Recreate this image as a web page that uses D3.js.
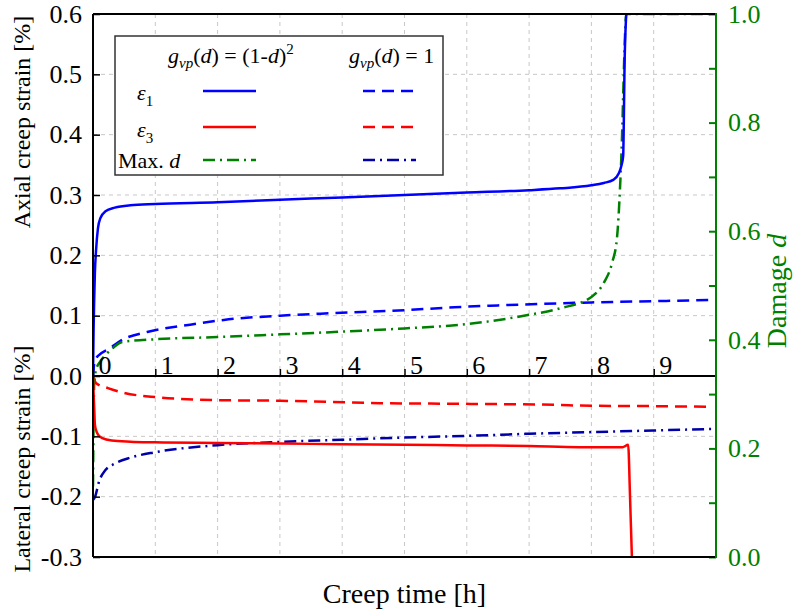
<!DOCTYPE html>
<html>
<head>
<meta charset="utf-8">
<script src="https://cdn.jsdelivr.net/npm/d3@7"></script>
<style>
  html, body { margin: 0; padding: 0; background: #fff; }
  svg { display: block; }
  svg text { font-family: "Liberation Serif", "Times New Roman", Times, serif; }
</style>
</head>
<body>
<svg id="chart" width="795" height="615"></svg>
<script>
// ---- data -------------------------------------------------------------
// creep time [h]
const timeTicks = [0, 1, 2, 3, 4, 5, 6, 7, 8, 9];
const strainTicks = [0.6, 0.5, 0.4, 0.3, 0.2, 0.1, 0.0, -0.1, -0.2, -0.3];
const damageTicks = [0, 0.1, 0.2, 0.3, 0.4, 0.5, 0.6, 0.7, 0.8, 0.9, 1.0];

// g_vp(d) = (1-d)^2 : axial strain eps1 [%]
const eps1DegT = [0, 0.005, 0.01, 0.02, 0.03, 0.05, 0.08, 0.12, 0.2, 0.35, 0.6, 1, 2, 3, 4, 5, 6, 7, 7.5, 8, 8.2, 8.35, 8.44, 8.48, 8.51, 8.52, 8.53, 8.56];
const eps1DegV = [0, 0.04, 0.08, 0.13, 0.17, 0.21, 0.245, 0.262, 0.273, 0.279, 0.283, 0.285, 0.288, 0.292, 0.296, 0.300, 0.304, 0.308, 0.311, 0.316, 0.320, 0.325, 0.336, 0.348, 0.365, 0.42, 0.50, 0.60];

// g_vp(d) = (1-d)^2 : lateral strain eps3 [%]
const eps3DegT = [0, 0.01, 0.02, 0.03, 0.05, 0.08, 0.15, 0.3, 0.6, 1, 2, 3, 4, 5, 6, 7, 7.8, 8.5, 8.59, 8.62, 8.65];
const eps3DegV = [0, -0.03, -0.055, -0.08, -0.09, -0.097, -0.103, -0.107, -0.109, -0.110, -0.111, -0.112, -0.113, -0.114, -0.115, -0.116, -0.118, -0.118, -0.114, -0.2, -0.3];

// g_vp(d) = (1-d)^2 : maximum damage d
const dmgDegT = [0, 0.005, 0.01, 0.02, 0.05, 0.11, 0.2, 0.32, 0.47, 1, 2, 3, 4, 5, 6, 7, 7.5, 8, 8.2, 8.33, 8.41, 8.46, 8.49, 8.51, 8.53, 8.56, 10];
const dmgDegV = [0.13, 0.2, 0.26, 0.32, 0.345, 0.359, 0.372, 0.385, 0.396, 0.401, 0.405, 0.41, 0.415, 0.421, 0.429, 0.446, 0.458, 0.479, 0.505, 0.541, 0.587, 0.681, 0.768, 0.85, 0.93, 1.0, 1.0];

// g_vp(d) = 1 : axial strain eps1 [%]
const eps1RefT = [0, 0.02, 0.06, 0.1, 0.27, 0.47, 0.87, 1.56, 2.1, 3, 3.8, 5, 5.8, 6.5, 7.65, 8, 9, 9.9];
const eps1RefV = [0, 0.02, 0.031, 0.035, 0.046, 0.06, 0.073, 0.085, 0.093, 0.1, 0.104, 0.109, 0.114, 0.117, 0.121, 0.122, 0.124, 0.126];

// g_vp(d) = 1 : lateral strain eps3 [%]
const eps3RefT = [0, 0.05, 0.24, 0.5, 1, 2, 3, 3.8, 4.6, 5.8, 7.5, 7.8, 9, 9.85];
const eps3RefV = [0, -0.012, -0.02, -0.028, -0.035, -0.04, -0.041, -0.043, -0.045, -0.046, -0.048, -0.049, -0.05, -0.051];

// g_vp(d) = 1 : maximum damage d
const dmgRefT = [0, 0.03, 0.1, 0.2, 0.35, 0.6, 1, 2, 3, 4, 5, 6, 7, 8, 9, 10];
const dmgRefV = [0.105, 0.11, 0.14, 0.16, 0.172, 0.183, 0.193, 0.206, 0.212, 0.216, 0.220, 0.223, 0.227, 0.230, 0.233, 0.236];

// ---- layout -----------------------------------------------------------
const plot = { left: 93, right: 716, top: 14, bottom: 557 };
const fontTick = 26;
const green = "#008000";

const svg = d3.select("#chart");

const x = d3.scaleLinear().domain([0, 10]).range([plot.left, plot.right]);
const yStrain = d3.scaleLinear().domain([-0.3, 0.6]).range([plot.bottom, plot.top]);
const yDamage = d3.scaleLinear().domain([0, 1]).range([plot.bottom, plot.top]);

const zip = (ts, vs) => ts.map((t, i) => [t, vs[i]]);

const series = [
  { pts: zip(eps1RefT, eps1RefV), y: yStrain, color: "#0000ff", dash: "12,7" },
  { pts: zip(eps3RefT, eps3RefV), y: yStrain, color: "#ff0000", dash: "12,7" },
  { pts: zip(dmgRefT, dmgRefV), y: yDamage, color: "#0000a8", dash: "12,5,2,5" },
  { pts: zip(dmgDegT, dmgDegV), y: yDamage, color: green, dash: "12,5,2,5" },
  { pts: zip(eps3DegT, eps3DegV), y: yStrain, color: "#ff0000", dash: null },
  { pts: zip(eps1DegT, eps1DegV), y: yStrain, color: "#0000ff", dash: null }
];

// ---- grid -------------------------------------------------------------
const grid = svg.append("g").attr("stroke", "#c8c8c8").attr("stroke-width", 1).attr("stroke-dasharray", "4,4");
grid.selectAll("line.v").data(timeTicks.filter(t => t > 0)).join("line")
  .attr("x1", d => x(d)).attr("x2", d => x(d))
  .attr("y1", plot.top).attr("y2", plot.bottom);
grid.selectAll("line.h").data(strainTicks.filter(v => v !== 0.6 && v !== 0 && v !== -0.3)).join("line")
  .attr("x1", plot.left).attr("x2", plot.right)
  .attr("y1", d => yStrain(d)).attr("y2", d => yStrain(d));

// ---- curves -----------------------------------------------------------
svg.append("clipPath").attr("id", "plotClip").append("rect")
  .attr("x", plot.left).attr("y", plot.top)
  .attr("width", plot.right - plot.left).attr("height", plot.bottom - plot.top);

const curves = svg.append("g").attr("clip-path", "url(#plotClip)");
series.forEach(s => {
  const line = d3.line().x(d => x(d[0])).y(d => s.y(d[1])).curve(d3.curveMonotoneX);
  curves.append("path")
    .attr("d", line(s.pts))
    .attr("fill", "none")
    .attr("stroke", s.color)
    .attr("stroke-width", 2.5)
    .attr("stroke-dasharray", s.dash);
});

// ---- axes -------------------------------------------------------------
const leftAxis = svg.append("g")
  .attr("transform", `translate(${plot.left},0)`)
  .call(d3.axisLeft(yStrain).tickValues(strainTicks).tickSize(-7).tickPadding(11)
    .tickFormat(d => d.toFixed(1)))
  .attr("font-family", null).attr("font-size", fontTick);
leftAxis.select(".domain").remove();
leftAxis.selectAll("line").attr("stroke", "#000").attr("stroke-width", 1.5);
leftAxis.selectAll("text").attr("fill", "#000");

const timeAxis = svg.append("g")
  .attr("transform", `translate(0,${yStrain(0)})`)
  .call(d3.axisBottom(x).tickValues(timeTicks).tickSize(-7).tickFormat(d3.format("d")))
  .attr("font-family", null).attr("font-size", fontTick);
timeAxis.select(".domain").remove();
timeAxis.selectAll("line").attr("stroke", "#000").attr("stroke-width", 1.5);
timeAxis.selectAll("text")
  .attr("fill", "#000")
  .attr("text-anchor", "start").attr("x", 5).attr("y", -2).attr("dy", null);

const rightAxis = svg.append("g")
  .attr("transform", `translate(${plot.right},0)`)
  .call(d3.axisRight(yDamage).tickValues(damageTicks).tickSize(-7).tickPadding(12)
    .tickFormat((d, i) => i % 2 === 0 ? d.toFixed(1) : ""))
  .attr("font-family", null).attr("font-size", fontTick);
rightAxis.select(".domain").remove();
rightAxis.selectAll("line").attr("stroke", green).attr("stroke-width", 2);
rightAxis.selectAll("text").attr("fill", green);

// frame and zero line
const frame = svg.append("g").attr("fill", "none").attr("stroke-width", 2);
frame.append("line").attr("x1", plot.left).attr("x2", plot.right).attr("y1", plot.top).attr("y2", plot.top).attr("stroke", "#000");
frame.append("line").attr("x1", plot.left).attr("x2", plot.right).attr("y1", plot.bottom).attr("y2", plot.bottom).attr("stroke", "#000");
frame.append("line").attr("x1", plot.left).attr("x2", plot.right).attr("y1", yStrain(0)).attr("y2", yStrain(0)).attr("stroke", "#000");
frame.append("line").attr("x1", plot.left).attr("x2", plot.left).attr("y1", plot.top).attr("y2", plot.bottom).attr("stroke", "#000");
frame.append("line").attr("x1", plot.right).attr("x2", plot.right).attr("y1", plot.top - 1).attr("y2", plot.bottom + 1).attr("stroke", green);

// ---- axis titles ------------------------------------------------------
svg.append("text")
  .attr("transform", `translate(30,122) rotate(-90)`)
  .attr("text-anchor", "middle").attr("font-size", 24)
  .text("Axial creep strain [%]");
svg.append("text")
  .attr("transform", `translate(30,459) rotate(-90)`)
  .attr("text-anchor", "middle").attr("font-size", 24)
  .text("Lateral creep strain [%]");
svg.append("text")
  .attr("x", (plot.left + plot.right) / 2).attr("y", 603)
  .attr("text-anchor", "middle").attr("font-size", 28)
  .text("Creep time [h]");
const dmgTitle = svg.append("text")
  .attr("transform", `translate(786,291) rotate(-90)`)
  .attr("text-anchor", "middle").attr("font-size", 28).attr("fill", green);
dmgTitle.append("tspan").text("Damage ");
dmgTitle.append("tspan").attr("font-style", "italic").text("d");

// ---- legend -----------------------------------------------------------
const legend = svg.append("g");
legend.append("rect")
  .attr("x", 115).attr("y", 36).attr("width", 328).attr("height", 139)
  .attr("fill", "#fff").attr("stroke", "#333").attr("stroke-width", 1.5);

function header(x0, y0, tail) {
  const t = legend.append("text").attr("x", x0).attr("y", y0).attr("font-size", 22);
  t.append("tspan").attr("font-style", "italic").text("g");
  t.append("tspan").attr("font-style", "italic").attr("font-size", 15).attr("dy", 5).text("vp");
  t.append("tspan").attr("dy", -5).text("(");
  t.append("tspan").attr("font-style", "italic").text("d");
  t.append("tspan").text(") = ");
  tail(t);
}
header(168, 63, t => {
  t.append("tspan").text("(1-");
  t.append("tspan").attr("font-style", "italic").text("d");
  t.append("tspan").text(")");
  t.append("tspan").attr("font-size", 15).attr("dy", -9).text("2");
});
header(349, 63, t => t.append("tspan").text("1"));

const rowY = [91, 127, 160];
function epsLabel(y0, sub) {
  const t = legend.append("text").attr("x", 137).attr("y", y0).attr("font-size", 22);
  t.append("tspan").attr("font-style", "italic").text("ε");
  t.append("tspan").attr("font-size", 15).attr("dy", 6).text(sub);
}
epsLabel(100, "1");
epsLabel(137, "3");
const maxD = legend.append("text").attr("x", 118).attr("y", 168).attr("font-size", 22);
maxD.append("tspan").text("Max. ");
maxD.append("tspan").attr("font-style", "italic").text("d");

const legendRows = [
  { y: rowY[0], a: series[5], b: series[0] },
  { y: rowY[1], a: series[4], b: series[1] },
  { y: rowY[2], a: series[3], b: series[2] }
];
legendRows.forEach(r => {
  legend.append("line").attr("x1", 203).attr("x2", 256).attr("y1", r.y).attr("y2", r.y)
    .attr("stroke", r.a.color).attr("stroke-width", 2.5).attr("stroke-dasharray", r.a.dash);
  legend.append("line").attr("x1", 363).attr("x2", 416).attr("y1", r.y).attr("y2", r.y)
    .attr("stroke", r.b.color).attr("stroke-width", 2.5).attr("stroke-dasharray", r.b.dash);
});
</script>
</body>
</html>
